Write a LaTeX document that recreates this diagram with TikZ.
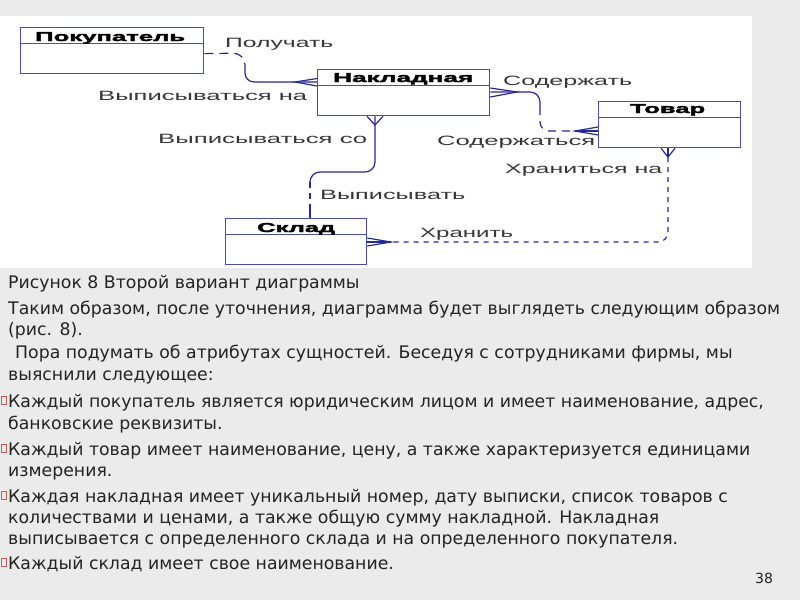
\documentclass[tikz,border=0pt]{standalone}
\usepackage{fontspec}
\usepackage{graphicx}
\setmainfont{DejaVu Sans}
\newfontfamily\labfont{Liberation Sans}
\newfontfamily\ttlfont[FakeBold=2]{Liberation Sans Bold}
\definecolor{bgc}{RGB}{235,235,235}
\definecolor{connc}{RGB}{40,40,150}
\definecolor{boxc}{RGB}{75,75,180}
\definecolor{txtc}{RGB}{35,35,35}
\definecolor{lblc}{RGB}{55,55,55}
\definecolor{bulc}{RGB}{205,90,90}
\newcommand\fitw[2]{\resizebox{#1pt}{\height}{#2}}
\tikzset{
  ebox/.style={draw=boxc, line width=1.3pt, rectangle, inner sep=0pt, anchor=north west},
  hline/.style={draw=boxc, line width=1pt},
  conn/.style={draw=connc, line width=1.2pt},
  ttl/.style={inner sep=0pt, anchor=base west, font=\ttlfont\fontsize{13pt}{15pt}\selectfont, text=black},
  lab/.style={inner sep=0pt, anchor=base west, font=\labfont\fontsize{13.5pt}{15pt}\selectfont, text=lblc},
  body/.style={inner sep=0pt, anchor=base west, font=\fontsize{17.3pt}{20pt}\selectfont, text=txtc},
  bul/.style={draw=bulc, line width=0.6pt}
}
\begin{document}
\begin{tikzpicture}[x=1pt,y=-1pt]
\fill[bgc] (0,0) rectangle (800,600);
\useasboundingbox (0,0) rectangle (800,600);
\fill[white] (0,16) rectangle (752,268);

% entities
\node[ebox, minimum width=183pt, minimum height=46pt] (pok) at (20,27) {};
\draw[hline] ([yshift=-16pt]pok.north west) -- ([yshift=-16pt]pok.north east);
\node[ttl] (tpok) at (35,41) {\fitw{150}{Покупатель}};

\node[ebox, minimum width=172pt, minimum height=46pt] (nak) at (317,69) {};
\draw[hline] ([yshift=-16pt]nak.north west) -- ([yshift=-16pt]nak.north east);
\node[ttl] (tnak) at (333,82) {\fitw{140}{Накладная}};

\node[ebox, minimum width=142pt, minimum height=46pt] (tov) at (598,101) {};
\draw[hline] ([yshift=-16pt]tov.north west) -- ([yshift=-16pt]tov.north east);
\node[ttl] (ttov) at (630,113) {\fitw{75}{Товар}};

\node[ebox, minimum width=141pt, minimum height=46pt] (skl) at (225,218) {};
\draw[hline] ([yshift=-16pt]skl.north west) -- ([yshift=-16pt]skl.north east);
\node[ttl] (tskl) at (257,232) {\fitw{78}{Склад}};

% connector 1: Покупатель - Накладная
\coordinate (c1a) at (245,70);
\coordinate (c1v) at (295,82);
\draw[conn, dash pattern=on 9pt off 6pt, rounded corners=12pt] ([yshift=-3pt]pok.east) -- (245,53) -- (c1a);
\draw[conn, rounded corners=9pt] (c1a) -- (245,82) -- (nak.west |- c1v);
\draw[conn] (nak.west |- 0,78.5) -- (c1v) -- (nak.west |- 0,86);

% connector 2: Накладная - Товар
\coordinate (c2v) at (517,92);
\coordinate (c2a) at (540,107);
\coordinate (c2w) at (575,131);
\draw[conn] (nak.east |- 0,88) -- (c2v) -- (nak.east |- 0,97);
\draw[conn, rounded corners=10pt] (nak.east |- c2v) -- (540,92) -- (c2a);
\draw[conn, dash pattern=on 8pt off 6pt, rounded corners=9pt] (c2a) -- (540,131) -- (c2w);
\draw[conn] (c2w) -- (tov.west |- c2w);
\draw[conn] (tov.west |- 0,127) -- (c2w) -- (tov.west |- 0,135);

% connector 3: Накладная - Склад
\coordinate (c3v) at (375,125);
\coordinate (c3a) at (310,182);
\coordinate (c3b) at (310,205);
\draw[conn] (nak.south -| 367,0) -- (c3v) -- (nak.south -| 383,0);
\draw[conn, rounded corners=10pt] (nak.south -| c3v) -- (375,172) -- (310,172) -- (c3a);
\draw[conn, dash pattern=on 6pt off 5pt] (c3a) -- (c3b);
\draw[conn] (c3b) -- (skl.north -| c3b);

% connector 4: Товар - Склад
\coordinate (c4v) at (668,157);
\coordinate (c4w) at (391,242);
\draw[conn] (tov.south -| 661,0) -- (c4v) -- (tov.south -| 675,0);
\draw[conn] (tov.south -| c4v) -- (c4v);
\draw[conn, dash pattern=on 5pt off 5pt, rounded corners=10pt] (c4v) -- (668,242) -- (c4w);
\draw[conn] (c4w) -- (skl.east |- c4w);
\draw[conn] (skl.east |- 0,238) -- (c4w) -- (skl.east |- 0,246);

% relationship labels
\node[lab] (l1) at (225,47) {\fitw{108}{Получать}};
\node[lab] (l2) at (98,100) {\fitw{209}{Выписываться на}};
\node[lab] (l3) at (158,143) {\fitw{209}{Выписываться со}};
\node[lab] (l4) at (503,85) {\fitw{129}{Содержать}};
\node[lab] (l5) at (437,145) {\fitw{158}{Содержаться}};
\node[lab] (l6) at (505,173) {\fitw{157}{Храниться на}};
\node[lab] (l7) at (320,199) {\fitw{145}{Выписывать}};
\node[lab] (l8) at (420,237) {\fitw{93}{Хранить}};

% body text
\node[body] (t1) at (8,288) {Рисунок 8 Второй вариант диаграммы};
\node[body] (t2) at (8,314) {Таким образом, после уточнения, диаграмма будет выглядеть следующим образом};
\node[body] (t3) at (8,335) {(рис. 8).};
\node[body] (t4) at (15,358) {Пора подумать об атрибутах сущностей. Беседуя с сотрудниками фирмы, мы};
\node[body] (t5) at (8,380) {выяснили следующее:};
\node[body] (t6) at (8,407) {Каждый покупатель является юридическим лицом и имеет наименование, адрес,};
\node[body] (t7) at (8,429) {банковские реквизиты.};
\node[body] (t8) at (8,455) {Каждый товар имеет наименование, цену, а также характеризуется единицами};
\node[body] (t9) at (8,476) {измерения.};
\node[body] (t10) at (8,502) {Каждая накладная имеет уникальный номер, дату выписки, список товаров с};
\node[body] (t11) at (8,523) {количествами и ценами, а также общую сумму накладной. Накладная};
\node[body] (t12) at (8,544) {выписывается с определенного склада и на определенного покупателя.};
\node[body] (t13) at (8,569) {Каждый склад имеет свое наименование.};
\node[body, font=\fontsize{14pt}{16pt}\selectfont] (pg) at (755,583) {38};

\draw[bul] (1.5,396) rectangle (6,404);
\draw[bul] (1.5,444) rectangle (6,452);
\draw[bul] (1.5,491) rectangle (6,499);
\draw[bul] (1.5,558) rectangle (6,566);
\end{tikzpicture}
\end{document}
